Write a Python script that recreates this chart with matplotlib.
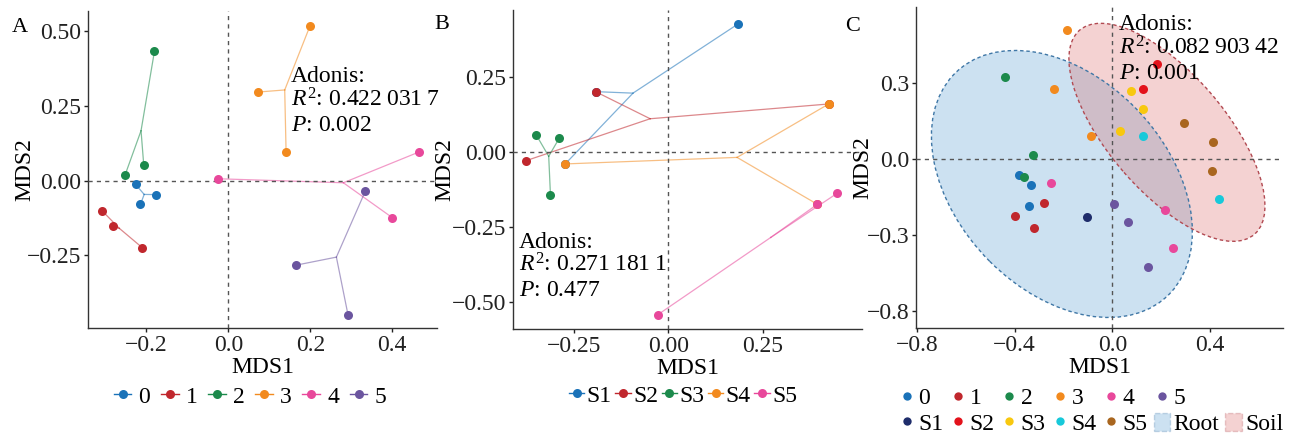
import numpy as np
import matplotlib
matplotlib.use('Agg')
import matplotlib.pyplot as plt
from matplotlib.lines import Line2D
from matplotlib.patches import Ellipse, Patch

plt.rcParams['font.family'] = ['Liberation Serif', 'DejaVu Serif']
plt.rcParams['mathtext.fontset'] = 'custom'
plt.rcParams['mathtext.rm'] = 'Liberation Serif'
plt.rcParams['mathtext.it'] = 'Liberation Serif:italic'

# ---- data ----
# panel A: root clusters 0-5
groups_a = ['0', '1', '2', '3', '4', '5']
mds1_a = [[-0.226, -0.175, -0.214],
          [-0.307, -0.280, -0.210],
          [-0.180, -0.206, -0.252],
          [0.199, 0.073, 0.141],
          [-0.024, 0.466, 0.400],
          [0.334, 0.165, 0.292]]
mds2_a = [[-0.013, -0.047, -0.079],
          [-0.102, -0.153, -0.224],
          [0.432, 0.051, 0.017],
          [0.516, 0.296, 0.097],
          [0.006, 0.096, -0.124],
          [-0.036, -0.283, -0.449]]

# panel B: soil samples S1-S5
groups_b = ['S1', 'S2', 'S3', 'S4', 'S5']
mds1_b = [[0.185, -0.192, -0.272],
          [-0.192, -0.375, 0.424],
          [-0.348, -0.288, -0.311],
          [-0.272, 0.424, 0.394],
          [0.447, 0.394, -0.028]]
mds2_b = [[0.425, 0.200, -0.040],
          [0.200, -0.029, 0.159],
          [0.055, 0.045, -0.144],
          [-0.040, 0.159, -0.174],
          [-0.137, -0.174, -0.541]]

# panel C: everything together
groups_c = ['0', '1', '2', '3', '4', '5', 'S1', 'S2', 'S3', 'S4', 'S5']
mds1_c = [[-0.383, -0.335, -0.341],
          [-0.399, -0.322, -0.279],
          [-0.440, -0.327, -0.364],
          [-0.187, -0.238, -0.089],
          [-0.253, 0.214, 0.248],
          [0.005, 0.064, 0.146],
          [-0.105],
          [0.183, 0.123],
          [0.075, 0.123, 0.031],
          [0.127, 0.435],
          [0.294, 0.413, 0.407]]
mds2_c = [[-0.062, -0.104, -0.184],
          [-0.226, -0.272, -0.175],
          [0.326, 0.016, -0.071],
          [0.511, 0.279, 0.093],
          [-0.093, -0.200, -0.351],
          [-0.179, -0.249, -0.425],
          [-0.229],
          [0.376, 0.279],
          [0.271, 0.199, 0.112],
          [0.091, -0.158],
          [0.143, 0.068, -0.045]]

# confidence ellipses in panel C
ell_names = ['Root', 'Soil']
ell_cx = [-0.207, 0.223]
ell_cy = [-0.098, 0.106]
ell_w = [1.237, 1.078]
ell_h = [0.850, 0.473]
ell_angle = [-44, -48]

adonis_r2 = ['0.422\u2009031\u20097', '0.271\u2009181\u20091', '0.082\u2009903\u200942']
adonis_p = ['0.002', '0.477', '0.001']

pal = ['#1a72b8', '#c0272d', '#1c8a4c', '#f28a1e', '#e8489b', '#6b559f']
pal_s = ['#1f2d6b', '#e3121b', '#f8c80f', '#17c9da', '#a9661f']
ell_face = ['#4a94cf', '#d86060']
ell_edge = ['#3f77a6', '#b24a52']

FS = 17


def style(ax):
    for s in ['top', 'right']:
        ax.spines[s].set_visible(False)
    for s in ['left', 'bottom']:
        ax.spines[s].set_linewidth(1.0)
        ax.spines[s].set_color('#333333')
    ax.tick_params(direction='out', length=3, width=1, labelsize=FS, pad=2, colors='#222222')
    ax.axhline(0, ls=(0, (3, 3)), color='#555555', lw=1, zorder=3)
    ax.axvline(0, ls=(0, (3, 3)), color='#555555', lw=1, zorder=3)
    ax.set_xlabel('MDS1', fontsize=FS, labelpad=1)
    ax.set_ylabel('MDS2', fontsize=FS)


def spider(ax, xs, ys, colors):
    for gx, gy, c in zip(xs, ys, colors):
        cx, cy = np.mean(gx), np.mean(gy)
        for x, y in zip(gx, gy):
            ax.plot([cx, x], [cy, y], color=c, lw=0.9, alpha=0.55, zorder=2)
    for gx, gy, c in zip(xs, ys, colors):
        ax.plot(gx, gy, 'o', color=c, ms=6.5, mew=0, zorder=4)


def adonis(ax, x, y, r2, p):
    lines = ['Adonis:', '$\\mathit{R}^2$: ' + r2, '$\\mathit{P}$: ' + p]
    for i, t in enumerate(lines):
        ax.annotate(t, xy=(x, y), xytext=(0, -17.5 * i), textcoords='offset points',
                    fontsize=FS, ha='left', va='baseline', zorder=5, annotation_clip=False)


fig = plt.figure(figsize=(12.93, 4.37), dpi=100)
W, H = 1293., 437.
axA = fig.add_axes([88 / W, (H - 328) / H, 349 / W, (328 - 11) / H])
axB = fig.add_axes([513 / W, (H - 329) / H, 349 / W, (329 - 10) / H])
axC = fig.add_axes([916 / W, (H - 328) / H, 367 / W, (328 - 7) / H])

# ---- A ----
style(axA)
spider(axA, mds1_a, mds2_a, pal)
axA.set_xlim(-0.342, 0.509)
axA.set_ylim(-0.493, 0.567)
axA.set_xticks([-0.2, 0.0, 0.2, 0.4])
axA.set_yticks([-0.25, 0.0, 0.25, 0.5])
axA.set_yticklabels(['\u22120.25', '0.00', '0.25', '0.50'])
axA.set_xticklabels(['\u22120.2', '0.0', '0.2', '0.4'])
axA.yaxis.set_label_coords(-0.15, 0.5)
adonis(axA, 0.152, 0.328, adonis_r2[0], adonis_p[0])
hA = [Line2D([0], [0], color=c, marker='o', ms=6.5, mew=0, lw=1) for c in pal]
fig.legend(hA, groups_a, loc='center', bbox_to_anchor=(250 / W, 1 - 397 / H), ncol=6,
           frameon=False, fontsize=FS, handlelength=0.75, handletextpad=0.3,
           columnspacing=0.45, borderpad=0)

# ---- B ----
style(axB)
spider(axB, mds1_b, mds2_b, pal[:5])
axB.set_xlim(-0.410, 0.512)
axB.set_ylim(-0.588, 0.471)
axB.set_xticks([-0.25, 0.0, 0.25])
axB.set_xticklabels(['\u22120.25', '0.00', '0.25'])
axB.set_yticks([-0.5, -0.25, 0.0, 0.25])
axB.set_yticklabels(['\u22120.50', '\u22120.25', '0.00', '0.25'])
axB.yaxis.set_label_coords(-0.165, 0.5)
adonis(axB, -0.395, -0.318, adonis_r2[1], adonis_p[1])
hB = [Line2D([0], [0], color=c, marker='o', ms=6.5, mew=0, lw=1) for c in pal[:5]]
fig.legend(hB, groups_b, loc='center', bbox_to_anchor=(683 / W, 1 - 396 / H), ncol=5,
           frameon=False, fontsize=FS, handlelength=0.65, handletextpad=0.1,
           columnspacing=0.15, borderpad=0)

# ---- C ----
style(axC)
for i in range(2):
    axC.add_patch(Ellipse((ell_cx[i], ell_cy[i]), ell_w[i], ell_h[i], angle=ell_angle[i],
                          facecolor=ell_face[i], alpha=0.28, edgecolor='none', zorder=1))
    axC.add_patch(Ellipse((ell_cx[i], ell_cy[i]), ell_w[i], ell_h[i], angle=ell_angle[i],
                          facecolor='none', edgecolor=ell_edge[i], lw=1, ls=(0, (2.5, 2)), zorder=2))
cols_c = pal + pal_s
for gx, gy, c in zip(mds1_c, mds2_c, cols_c):
    axC.plot(gx, gy, 'o', color=c, ms=6.5, mew=0, zorder=4)
axC.set_xlim(-0.804, 0.698)
axC.set_ylim(-0.667, 0.601)
axC.set_xticks([-0.8, -0.4, 0.0, 0.4])
axC.set_xticklabels(['\u22120.8', '\u22120.4', '0.0', '0.4'])
axC.set_yticks([-0.6, -0.3, 0.0, 0.3])
axC.set_yticklabels(['\u22120.8', '\u22120.3', '0.0', '0.3'])
axC.yaxis.set_label_coords(-0.115, 0.5)
adonis(axC, 0.027, 0.51, adonis_r2[2], adonis_p[2])

# legend: two rows, column-major fill
pt = lambda c: Line2D([0], [0], color=c, marker='o', ms=6, mew=0, lw=0)
blank = Line2D([0], [0], color='none', lw=0)
hC, lC = [], []
for k in range(5):
    hC += [pt(pal[k]), pt(pal_s[k])]
    lC += [groups_a[k], groups_b[k]]
hC += [pt(pal[5]), Patch(facecolor=ell_face[0], alpha=0.28, edgecolor=ell_edge[0], ls='--', lw=1),
       blank, Patch(facecolor=ell_face[1], alpha=0.28, edgecolor=ell_edge[1], ls='--', lw=1)]
lC += [groups_a[5], 'Root', '', 'Soil']
fig.legend(hC, lC, loc='center', bbox_to_anchor=(1091 / W, 1 - 411 / H), ncol=7,
           frameon=False, fontsize=FS, handlelength=0.7, handleheight=0.8, handletextpad=0.15,
           columnspacing=0.25, borderpad=0, labelspacing=0.15)

# panel letters
fig.text(12 / W, 1 - 32 / H, 'A', fontsize=16)
fig.text(434 / W, 1 - 29 / H, 'B', fontsize=16)
fig.text(845 / W, 1 - 31 / H, 'C', fontsize=16)

plt.savefig('out.png', dpi=100)
plt.close(fig)
